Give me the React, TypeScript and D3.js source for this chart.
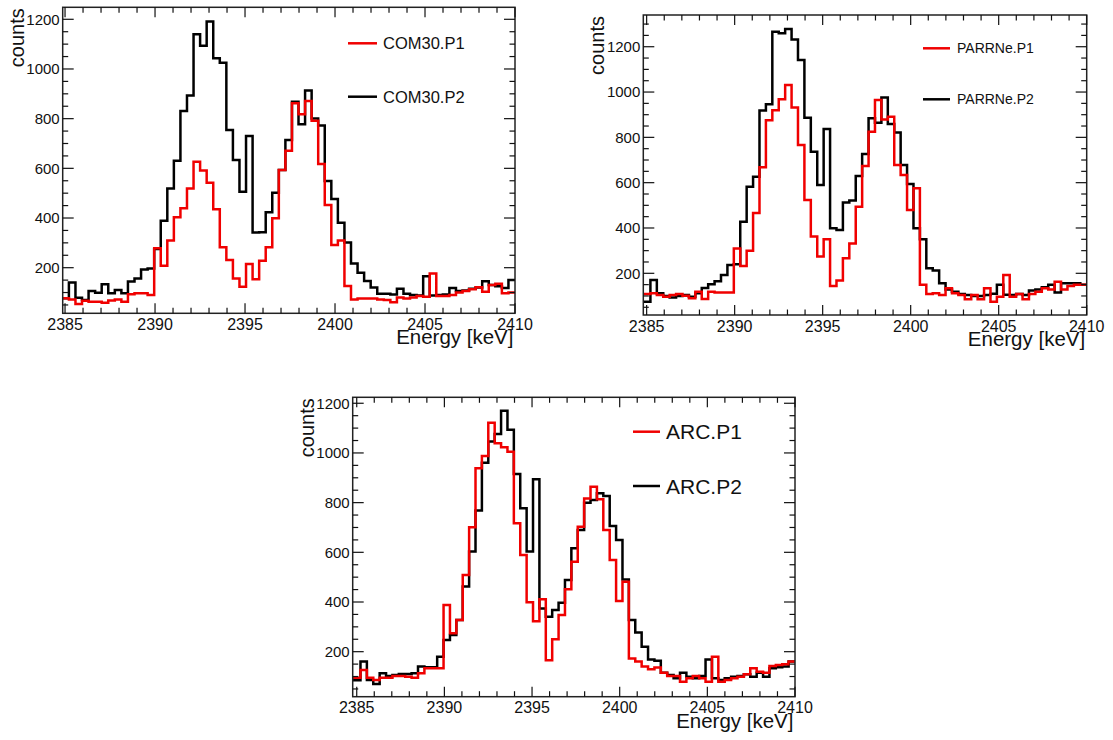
import React from "react";
import * as d3 from "d3";

// ---- data ----
const binLow = 2384.85; // lower edge of first bin (keV)
const binWidth = 0.3645; // keV per bin
const xTickValues = [2385, 2390, 2395, 2400, 2405, 2410];
const xTitle = "Energy [keV]";
const yTitle = "counts";

const com30P1 = [77, 72, 54, 67, 63, 63, 59, 68, 72, 63, 93, 97, 97, 90, 278, 208, 309, 403, 439, 519, 627, 591, 542, 435, 282, 231, 157, 123, 215, 153, 228, 282, 399, 593, 671, 862, 818, 871, 792, 617, 452, 291, 309, 126, 72, 76, 76, 76, 72, 70, 61, 80, 76, 80, 86, 83, 177, 86, 86, 90, 100, 106, 113, 121, 103, 130, 135, 97, 100];
const com30P2 = [77, 140, 79, 70, 106, 99, 133, 97, 110, 97, 144, 157, 193, 197, 275, 389, 519, 631, 831, 893, 1140, 1094, 1191, 1043, 1025, 754, 634, 506, 730, 342, 343, 423, 502, 593, 714, 868, 777, 913, 801, 772, 549, 477, 381, 301, 217, 180, 146, 120, 95, 95, 92, 115, 95, 90, 88, 166, 88, 90, 92, 118, 106, 108, 115, 120, 145, 130, 125, 118, 150];

const parrneP1 = [109, 112, 104, 97, 104, 109, 101, 90, 119, 87, 119, 115, 115, 115, 310, 232, 300, 466, 668, 876, 920, 968, 1031, 932, 766, 524, 362, 274, 350, 144, 168, 266, 332, 494, 674, 825, 965, 879, 891, 678, 634, 479, 575, 149, 109, 112, 104, 134, 112, 104, 85, 104, 85, 134, 75, 97, 193, 97, 109, 85, 109, 119, 134, 129, 163, 129, 144, 149, 149];
const parrneP2 = [75, 171, 112, 100, 93, 100, 104, 96, 112, 135, 152, 165, 193, 237, 240, 428, 582, 626, 918, 946, 1266, 1259, 1278, 1232, 1141, 887, 737, 590, 837, 399, 391, 512, 521, 629, 726, 884, 865, 976, 859, 821, 678, 594, 399, 350, 222, 212, 156, 129, 119, 109, 104, 100, 100, 104, 110, 150, 105, 104, 109, 104, 124, 129, 138, 149, 115, 156, 156, 156, 150];

const arcP1 = [95, 126, 95, 86, 95, 95, 102, 102, 99, 95, 113, 133, 133, 133, 388, 274, 328, 509, 701, 938, 988, 1122, 1039, 1023, 1005, 717, 589, 399, 323, 411, 166, 250, 348, 451, 562, 703, 817, 864, 814, 690, 569, 404, 482, 173, 160, 140, 129, 136, 115, 102, 102, 79, 93, 102, 93, 79, 180, 79, 86, 93, 99, 109, 133, 119, 115, 142, 146, 149, 160];
const arcP2 = [85, 160, 86, 70, 113, 102, 106, 110, 110, 113, 140, 137, 137, 180, 247, 267, 328, 462, 603, 768, 961, 1046, 1076, 1170, 1093, 915, 777, 603, 894, 374, 341, 368, 397, 489, 616, 690, 800, 811, 838, 827, 706, 650, 491, 328, 277, 220, 169, 164, 115, 106, 93, 115, 99, 93, 102, 169, 93, 86, 93, 99, 102, 109, 99, 115, 99, 133, 137, 140, 160];

const seriesNamesCOM = ["COM30.P1", "COM30.P2"];
const seriesNamesPARR = ["PARRNe.P1", "PARRNe.P2"];
const seriesNamesARC = ["ARC.P1", "ARC.P2"];

const RED = "#f00000";
const BLACK = "#000000";
const FONT = "'Liberation Sans', Arial, Helvetica, sans-serif";

type PanelCfg = {
  id: string;
  left: number; right: number; top: number; bottom: number;
  xMin: number; xMax: number; yMin: number; yMax: number;
  p1: number[]; p2: number[]; names: string[];
  leg: { x1: number; x2: number; y1: number; y2: number; tx: number; fs: number };
};

const panels: PanelCfg[] = [
  {
    id: "com", left: 62.7, right: 515, top: 7.3, bottom: 313.3,
    xMin: 2384.87, xMax: 2410, yMin: 16.4, yMax: 1248.3,
    p1: com30P1, p2: com30P2, names: seriesNamesCOM,
    leg: { x1: 348, x2: 377, y1: 43.3, y2: 96.7, tx: 383, fs: 16.5 },
  },
  {
    id: "parr", left: 643.3, right: 1086.7, top: 15, bottom: 315,
    xMin: 2384.81, xMax: 2410, yMin: 16, yMax: 1340,
    p1: parrneP1, p2: parrneP2, names: seriesNamesPARR,
    leg: { x1: 923, x2: 950, y1: 48.3, y2: 99.3, tx: 957, fs: 14 },
  },
  {
    id: "arc", left: 352.7, right: 795, top: 397.3, bottom: 696.7,
    xMin: 2384.77, xMax: 2410, yMin: 18.8, yMax: 1224,
    p1: arcP1, p2: arcP2, names: seriesNamesARC,
    leg: { x1: 633, x2: 660, y1: 431.7, y2: 486, tx: 666, fs: 21 },
  },
];

function Panel({ cfg }: { cfg: PanelCfg }) {
  const x = d3.scaleLinear().domain([cfg.xMin, cfg.xMax]).range([cfg.left, cfg.right]);
  const y = d3.scaleLinear().domain([cfg.yMin, cfg.yMax]).range([cfg.bottom, cfg.top]);
  const line = d3
    .line<[number, number]>()
    .x((d) => x(d[0]))
    .y((d) => y(d[1]))
    .curve(d3.curveStepAfter);
  const pts = (vals: number[]): [number, number][] => {
    const p: [number, number][] = vals.map((v, i) => [i === 0 ? Math.min(binLow, cfg.xMin) : binLow + i * binWidth, v]);
    p.push([binLow + vals.length * binWidth, vals[vals.length - 1]]);
    return p;
  };
  const xMinor = d3.range(Math.ceil(cfg.xMin), cfg.xMax + 0.001, 1).filter((v) => !xTickValues.includes(v));
  const yMajor = d3.range(200, cfg.yMax, 200).filter((v) => v > cfg.yMin);
  const yMinor = d3.range(50, cfg.yMax, 50).filter((v) => v > cfg.yMin && v % 200 !== 0);
  const clipId = "clip-" + cfg.id;
  const majL = 10, minL = 5.5;
  const tickColor = "#111";
  return (
    <g>
      <defs>
        <clipPath id={clipId}>
          <rect x={cfg.left} y={cfg.top} width={cfg.right - cfg.left} height={cfg.bottom - cfg.top} />
        </clipPath>
      </defs>
      <g clipPath={`url(#${clipId})`}>
        <path d={line(pts(cfg.p2)) || ""} fill="none" stroke={BLACK} strokeWidth={2.5} />
        <path d={line(pts(cfg.p1)) || ""} fill="none" stroke={RED} strokeWidth={2.5} />
      </g>
      <rect x={cfg.left} y={cfg.top} width={cfg.right - cfg.left} height={cfg.bottom - cfg.top} fill="none" stroke="#222" strokeWidth={1.5} />
      {/* x ticks */}
      {xTickValues.map((v) => (
        <g key={"xM" + v}>
          <line x1={x(v)} x2={x(v)} y1={cfg.bottom} y2={cfg.bottom - majL} stroke={tickColor} strokeWidth={1.2} />
          <line x1={x(v)} x2={x(v)} y1={cfg.top} y2={cfg.top + majL} stroke={tickColor} strokeWidth={1.2} />
          <text x={x(v)} y={cfg.bottom + 16.5} textAnchor="middle" fontSize={16} fontFamily={FONT} fill="#111">{v}</text>
        </g>
      ))}
      {xMinor.map((v) => (
        <g key={"xm" + v}>
          <line x1={x(v)} x2={x(v)} y1={cfg.bottom} y2={cfg.bottom - minL} stroke={tickColor} strokeWidth={1.2} />
          <line x1={x(v)} x2={x(v)} y1={cfg.top} y2={cfg.top + minL} stroke={tickColor} strokeWidth={1.2} />
        </g>
      ))}
      {/* y ticks */}
      {yMajor.map((v) => (
        <g key={"yM" + v}>
          <line x1={cfg.left} x2={cfg.left + majL + 1} y1={y(v)} y2={y(v)} stroke={tickColor} strokeWidth={1.2} />
          <line x1={cfg.right} x2={cfg.right - majL - 1} y1={y(v)} y2={y(v)} stroke={tickColor} strokeWidth={1.2} />
          <text x={cfg.left - 3} y={y(v) + 5.3} textAnchor="end" fontSize={15} fontFamily={FONT} fill="#111">{v}</text>
        </g>
      ))}
      {yMinor.map((v) => (
        <g key={"ym" + v}>
          <line x1={cfg.left} x2={cfg.left + minL} y1={y(v)} y2={y(v)} stroke={tickColor} strokeWidth={1.2} />
          <line x1={cfg.right} x2={cfg.right - minL} y1={y(v)} y2={y(v)} stroke={tickColor} strokeWidth={1.2} />
        </g>
      ))}
      {/* titles */}
      <text x={cfg.right - 1.5} y={cfg.bottom + 31} textAnchor="end" fontSize={20.5} fontFamily={FONT} fill="#111">{xTitle}</text>
      <text transform={`translate(${cfg.left - 39},${cfg.top + 1}) rotate(-90)`} textAnchor="end" fontSize={20} fontFamily={FONT} fill="#111">{yTitle}</text>
      {/* legend */}
      <line x1={cfg.leg.x1} x2={cfg.leg.x2} y1={cfg.leg.y1} y2={cfg.leg.y1} stroke={RED} strokeWidth={2.5} />
      <text x={cfg.leg.tx} y={cfg.leg.y1 + cfg.leg.fs * 0.37} fontSize={cfg.leg.fs} fontFamily={FONT} fill="#111">{cfg.names[0]}</text>
      <line x1={cfg.leg.x1} x2={cfg.leg.x2} y1={cfg.leg.y2} y2={cfg.leg.y2} stroke={BLACK} strokeWidth={2.5} />
      <text x={cfg.leg.tx} y={cfg.leg.y2 + cfg.leg.fs * 0.37} fontSize={cfg.leg.fs} fontFamily={FONT} fill="#111">{cfg.names[1]}</text>
    </g>
  );
}

export default function App() {
  return (
    <svg width={1113} height={740} style={{ position: "absolute", left: 0, top: 0, background: "#fff" }}>
      <rect x={0} y={0} width={1113} height={740} fill="#fff" />
      {panels.map((p) => (
        <Panel key={p.id} cfg={p} />
      ))}
    </svg>
  );
}
